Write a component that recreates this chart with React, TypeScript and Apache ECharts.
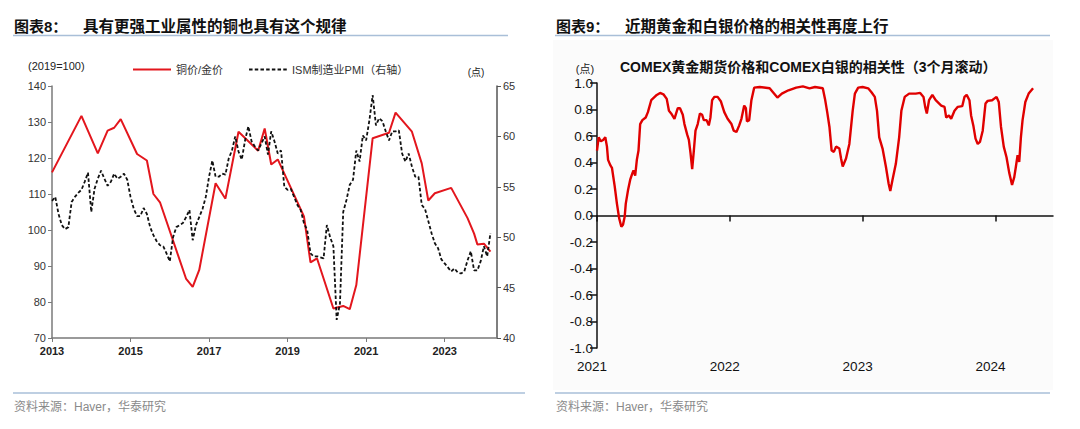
import React, { useEffect, useRef } from "react";
import * as echarts from "echarts";

// ---------- Left chart: copper/gold ratio vs ISM manufacturing PMI ----------
const leftYearTicks = [2013, 2015, 2017, 2019, 2021, 2023];

// ISM manufacturing PMI, monthly from 2013-01 (right axis)
const pmiStart = "2013-01";
const pmiValues = [
  53.6, 54.0, 52.3, 51.2, 50.8, 51.0, 53.5, 54.0, 54.4, 54.7, 55.5, 56.4,
  52.5, 54.8, 55.8, 56.6, 55.8, 55.1, 55.5, 56.3, 55.8, 56.0, 56.3, 55.7,
  54.0, 52.8, 52.1, 52.1, 52.9, 52.3, 51.0, 50.2, 49.6, 49.2, 49.1, 48.4,
  47.6, 50.0, 51.0, 51.2, 51.4, 52.0, 52.7, 49.7, 51.2, 52.0, 52.8, 54.0,
  56.0, 57.6, 56.0, 56.0, 56.3, 56.2, 57.8, 58.6, 60.0, 58.5, 57.7, 59.6,
  61.0, 59.5, 59.0, 58.6, 59.3, 60.0, 58.2, 60.5, 59.5, 58.3, 58.6, 55.0,
  54.7, 54.8, 54.0, 53.2, 52.7, 51.4, 50.7, 48.4, 48.1, 48.1, 48.0, 47.9,
  51.2, 50.0, 49.1, 41.8, 43.4, 52.5, 53.7, 55.2, 55.7, 58.6, 57.5, 60.1,
  59.6, 61.6, 64.1, 61.1, 61.8, 61.5, 60.5, 59.6, 60.5, 60.5, 60.6, 58.3,
  57.5, 58.3, 57.0, 56.0, 56.0, 53.2, 52.8, 51.6, 50.4, 49.4, 48.9, 47.8,
  47.4, 47.0, 46.6, 46.9, 46.5, 46.4, 46.6, 47.7, 48.6, 46.7, 46.7, 47.6,
  49.1, 48.1, 50.4,
];

// Copper / gold ratio (2019=100), left axis
const copperGoldDates = [
  "2013-01", "2013-10", "2014-03", "2014-06", "2014-08", "2014-10",
  "2015-03", "2015-06", "2015-08", "2015-10", "2016-06", "2016-08",
  "2016-10", "2017-03", "2017-06", "2017-10", "2018-04", "2018-06",
  "2018-08", "2018-10", "2019-06", "2019-08", "2019-10", "2020-03",
  "2020-06", "2020-08", "2020-10", "2021-03", "2021-08", "2021-10",
  "2022-03", "2022-06", "2022-08", "2022-10", "2023-03", "2023-08",
  "2023-10", "2023-11", "2024-01", "2024-03",
];
const copperGoldValues = [
  116.0, 131.7, 121.3, 127.6, 128.4, 130.8,
  121.1, 119.3, 110.0, 107.7, 86.4, 84.2,
  88.9, 113.0, 108.7, 127.3, 122.0, 128.2,
  118.2, 119.6, 103.8, 91.0, 92.1, 78.2,
  78.9, 78.0, 84.7, 125.5, 127.0, 132.6,
  127.3, 118.5, 108.2, 110.2, 111.7, 103.3,
  99.0, 96.0, 96.2, 94.0,
];

// ---------- Right chart: 3-month rolling correlation gold vs silver ----------
const rightYearTicks = [2021, 2022, 2023, 2024];
// months elapsed since 2021-01-01
const corrMonths = [
  0.0, 0.15, 0.35, 0.55, 0.75, 0.9, 1.0, 1.2, 1.35, 1.6, 1.8, 2.0, 2.2, 2.35,
  2.5, 2.6, 2.8, 3.0, 3.2, 3.3, 3.45, 3.6, 3.75, 3.9, 4.1, 4.4, 4.6, 4.9, 5.4,
  5.7, 6.0, 6.3, 6.5, 6.7, 7.0, 7.15, 7.3, 7.5, 7.75, 7.9, 8.15, 8.3, 8.45,
  8.6, 8.75, 8.9, 9.1, 9.3, 9.5, 9.65, 9.9, 10.1, 10.25, 10.4, 10.6, 10.9,
  11.2, 11.5, 11.8, 12.15, 12.35, 12.6, 12.85, 13.05, 13.3, 13.45, 13.55,
  13.75, 13.95, 14.2, 14.7, 15.6, 15.9, 16.3, 16.7, 17.3, 18.0, 18.6, 19.2,
  19.7, 20.4, 20.6, 20.8, 21.0, 21.2, 21.4, 21.6, 21.9, 22.05, 22.2, 22.5,
  22.8, 23.1, 23.3, 23.6, 24.0, 24.5, 24.8, 25.1, 25.3, 25.5, 25.8, 26.1,
  26.35, 26.5, 26.7, 27.0, 27.3, 27.5, 27.8, 28.2, 28.8, 29.2, 29.5, 29.65,
  29.8, 30.0, 30.3, 30.6, 31.1, 31.4, 31.55, 31.8, 32.0, 32.3, 32.6, 33.0,
  33.2, 33.4, 33.65, 33.8, 34.0, 34.2, 34.4, 34.6, 34.85, 35.1, 35.3, 35.7,
  36.1, 36.3, 36.5, 36.75, 37.0, 37.25, 37.5, 37.7, 37.85, 38.0, 38.15, 38.3,
  38.45, 38.7, 39.0, 39.4,
];
const corrValues = [
  0.49, 0.59, 0.56, 0.57, 0.59, 0.52, 0.42, 0.38, 0.36, 0.22, 0.09, -0.02, -0.085, -0.07,
  -0.01, 0.09, 0.19, 0.27, 0.32, 0.34, 0.3, 0.42, 0.49, 0.69, 0.72, 0.74, 0.78, 0.87, 0.91,
  0.925, 0.915, 0.88, 0.79, 0.77, 0.73, 0.77, 0.81, 0.81, 0.76, 0.69, 0.61, 0.57, 0.47,
  0.35, 0.49, 0.64, 0.69, 0.77, 0.76, 0.72, 0.72, 0.68, 0.74, 0.87, 0.895, 0.895,
  0.86, 0.78, 0.73, 0.69, 0.64, 0.63, 0.68, 0.73, 0.83, 0.81, 0.71,
  0.72, 0.87, 0.965, 0.97, 0.96, 0.93, 0.89, 0.92, 0.945, 0.965, 0.975, 0.96,
  0.97, 0.96, 0.88, 0.78, 0.67, 0.49, 0.48, 0.52, 0.505, 0.43, 0.37, 0.43,
  0.54, 0.79, 0.92, 0.965, 0.97, 0.96, 0.93, 0.895, 0.79, 0.59, 0.505, 0.37,
  0.24, 0.185, 0.27, 0.39, 0.59, 0.79, 0.895, 0.92, 0.92, 0.925, 0.895, 0.82,
  0.77, 0.87, 0.91, 0.87, 0.83, 0.82, 0.74, 0.755, 0.73, 0.79, 0.82, 0.825,
  0.895, 0.91, 0.87, 0.755, 0.68, 0.58, 0.54, 0.555, 0.64, 0.845, 0.865, 0.87,
  0.895, 0.857, 0.67, 0.52, 0.44, 0.32, 0.23, 0.29, 0.37, 0.455, 0.405, 0.59,
  0.72, 0.857, 0.92, 0.96,
];

const LATIN = '"Liberation Sans", Arial, "Noto Sans CJK SC", sans-serif';

function monthIndex(s: string, baseYear: number) {
  const [y, m] = s.split("-").map(Number);
  return (y - baseYear) * 12 + (m - 1);
}

export default function App() {
  const ref = useRef<HTMLDivElement>(null);

  useEffect(() => {
    if (!ref.current) return;
    const chart = echarts.init(ref.current, null, { renderer: "svg" });

    const pmiBase = monthIndex(pmiStart, 2013);
    const pmiData = pmiValues.map((v, i) => [pmiBase + i, v]);
    const cgData = copperGoldDates.map((d, i) => [monthIndex(d, 2013), copperGoldValues[i]]);
    const corrData = corrMonths.map((m, i) => [m, corrValues[i]]);

    const leftTickVals = leftYearTicks.map((y) => (y - 2013) * 12);
    const rightTickVals = rightYearTicks.map((y) => (y - 2021) * 12);

    const gray = "#7a7a7a";
    const blueRule = "#a9bfd8";

    const option: any = {
      animation: false,
      backgroundColor: "#ffffff",
      textStyle: { fontFamily: LATIN },
      legend: {
        left: 127,
        top: 59,
        itemWidth: 38,
        itemHeight: 10,
        itemGap: 25,
        itemStyle: { opacity: 0, borderWidth: 0 },
        textStyle: { fontSize: 11, color: "#333", fontFamily: LATIN },
        data: ["铜价/金价", "ISM制造业PMI（右轴）"],
      },
      grid: [
        { left: 52, top: 86, width: 445, height: 252 },
        { left: 597, top: 83, width: 456, height: 265 },
      ],
      xAxis: [
        {
          gridIndex: 0,
          type: "value",
          min: 0,
          max: 136,
          position: "bottom",
          splitLine: { show: false },
          axisLine: { onZero: false, lineStyle: { color: gray, width: 1.5 } },
          axisTick: { length: 4, lineStyle: { color: gray }, customValues: leftTickVals },
          axisLabel: {
            customValues: leftTickVals,
            formatter: (v: number) => String(2013 + Math.round(v / 12)),
            fontSize: 11,
            fontWeight: "bold",
            color: "#222",
            margin: 7,
          },
        },
        {
          gridIndex: 1,
          type: "value",
          min: 0,
          max: 41.2,
          position: "bottom",
          splitLine: { show: false },
          axisLine: { onZero: true, lineStyle: { color: "#111", width: 1.5 } },
          axisTick: { length: 6, lineStyle: { color: "#111", width: 1.5 }, customValues: rightTickVals },
          axisLabel: { show: false },
        },
        {
          gridIndex: 1,
          type: "value",
          min: 0,
          max: 41.2,
          position: "bottom",
          splitLine: { show: false },
          axisLine: { show: false, onZero: false },
          axisTick: { show: false },
          axisLabel: {
            customValues: rightTickVals,
            formatter: (v: number) => String(2021 + Math.round(v / 12)),
            fontSize: 13.5,
            color: "#111",
            margin: 12,
            padding: [0, 10, 0, 0],
          },
        },
      ],
      yAxis: [
        {
          gridIndex: 0,
          type: "value",
          min: 70,
          max: 140,
          interval: 10,
          position: "left",
          splitLine: { show: false },
          axisLine: { show: true, onZero: false, lineStyle: { color: gray, width: 1.5 } },
          axisTick: { show: true, length: 4, lineStyle: { color: gray } },
          axisLabel: { fontSize: 11, color: "#333", margin: 6 },
        },
        {
          gridIndex: 0,
          type: "value",
          min: 40,
          max: 65,
          interval: 5,
          position: "right",
          splitLine: { show: false },
          axisLine: { show: true, onZero: false, lineStyle: { color: "#555", width: 1.5 } },
          axisTick: { show: true, length: 4, lineStyle: { color: "#555" } },
          axisLabel: { fontSize: 11, color: "#333", margin: 6 },
        },
        {
          gridIndex: 1,
          type: "value",
          min: -1,
          max: 1,
          interval: 0.2,
          position: "left",
          splitLine: { show: false },
          axisLine: { show: true, onZero: false, lineStyle: { color: "#111", width: 1.5 } },
          axisTick: { show: true, length: 7, lineStyle: { color: "#111", width: 1.5 } },
          axisLabel: {
            fontSize: 13.5,
            color: "#111",
            margin: 4,
            formatter: (v: number) => v.toFixed(1),
          },
        },
      ],
      series: [
        {
          name: "铜价/金价",
          type: "line",
          xAxisIndex: 0,
          yAxisIndex: 0,
          data: cgData,
          symbol: "none",
          color: "#e3161d",
          lineStyle: { color: "#e3161d", width: 2 },
          z: 2,
        },
        {
          name: "ISM制造业PMI（右轴）",
          type: "line",
          xAxisIndex: 0,
          yAxisIndex: 1,
          data: pmiData,
          symbol: "none",
          color: "#111",
          lineStyle: { color: "#111", width: 1.8, type: [3.5, 2.2] },
          z: 3,
        },
        {
          name: "COMEX黄金和白银相关性",
          type: "line",
          xAxisIndex: 1,
          yAxisIndex: 2,
          data: corrData,
          symbol: "none",
          color: "#e00000",
          lineStyle: { color: "#e00000", width: 2.4 },
          z: 3,
        },
      ],
      graphic: [
        {
          type: "rect",
          z: -100,
          silent: true,
          shape: { x: 553, y: 40, width: 500, height: 350 },
          style: { fill: "#fbfbfb" },
        },
        // Titles
        {
          type: "text",
          x: 14,
          y: 26,
          style: { text: "图表8：", font: `bold 15px ${LATIN}`, fill: "#111", textVerticalAlign: "middle" },
        },
        {
          type: "text",
          x: 83,
          y: 26,
          style: { text: "具有更强工业属性的铜也具有这个规律", font: `bold 15.5px ${LATIN}`, fill: "#111", textVerticalAlign: "middle" },
        },
        {
          type: "text",
          x: 556,
          y: 26,
          style: { text: "图表9：", font: `bold 15px ${LATIN}`, fill: "#111", textVerticalAlign: "middle" },
        },
        {
          type: "text",
          x: 625,
          y: 26,
          style: { text: "近期黄金和白银价格的相关性再度上行", font: `bold 15.5px ${LATIN}`, fill: "#111", textVerticalAlign: "middle" },
        },
        // Rules under titles and above sources
        { type: "line", shape: { x1: 13, y1: 35.5, x2: 508, y2: 35.5 }, style: { stroke: blueRule, lineWidth: 1.5 } },
        { type: "line", shape: { x1: 555, y1: 35.5, x2: 1050, y2: 35.5 }, style: { stroke: blueRule, lineWidth: 1.5 } },
        { type: "line", shape: { x1: 13, y1: 393, x2: 525, y2: 393 }, style: { stroke: blueRule, lineWidth: 1.5 } },
        { type: "line", shape: { x1: 555, y1: 393, x2: 1050, y2: 393 }, style: { stroke: blueRule, lineWidth: 1.5 } },
        // Sources
        {
          type: "text",
          x: 14,
          y: 407,
          style: { text: "资料来源：Haver，华泰研究", font: `12px ${LATIN}`, fill: "#8a8a8a", textVerticalAlign: "middle" },
        },
        {
          type: "text",
          x: 556,
          y: 407,
          style: { text: "资料来源：Haver，华泰研究", font: `12px ${LATIN}`, fill: "#8a8a8a", textVerticalAlign: "middle" },
        },
        // Left chart annotations
        {
          type: "text",
          x: 28,
          y: 66,
          style: { text: "(2019=100)", font: `11px ${LATIN}`, fill: "#222", textVerticalAlign: "middle" },
        },
        {
          type: "text",
          x: 476,
          y: 72,
          style: { text: "(点)", font: `10px ${LATIN}`, fill: "#222", textAlign: "center", textVerticalAlign: "middle" },
        },
        // Right chart annotations
        {
          type: "text",
          x: 585,
          y: 69,
          style: { text: "(点)", font: `11px ${LATIN}`, fill: "#222", textAlign: "center", textVerticalAlign: "middle" },
        },
        {
          type: "text",
          x: 620,
          y: 67,
          style: {
            text: "COMEX黄金期货价格和COMEX白银的相关性（3个月滚动）",
            font: `bold 14px ${LATIN}`,
            fill: "#111",
            textVerticalAlign: "middle",
          },
        },
      ],
    };

    chart.setOption(option);
    return () => chart.dispose();
  }, []);

  return (
    <div
      ref={ref}
      style={{ position: "absolute", left: 0, top: 0, width: 1080, height: 429 }}
    />
  );
}
